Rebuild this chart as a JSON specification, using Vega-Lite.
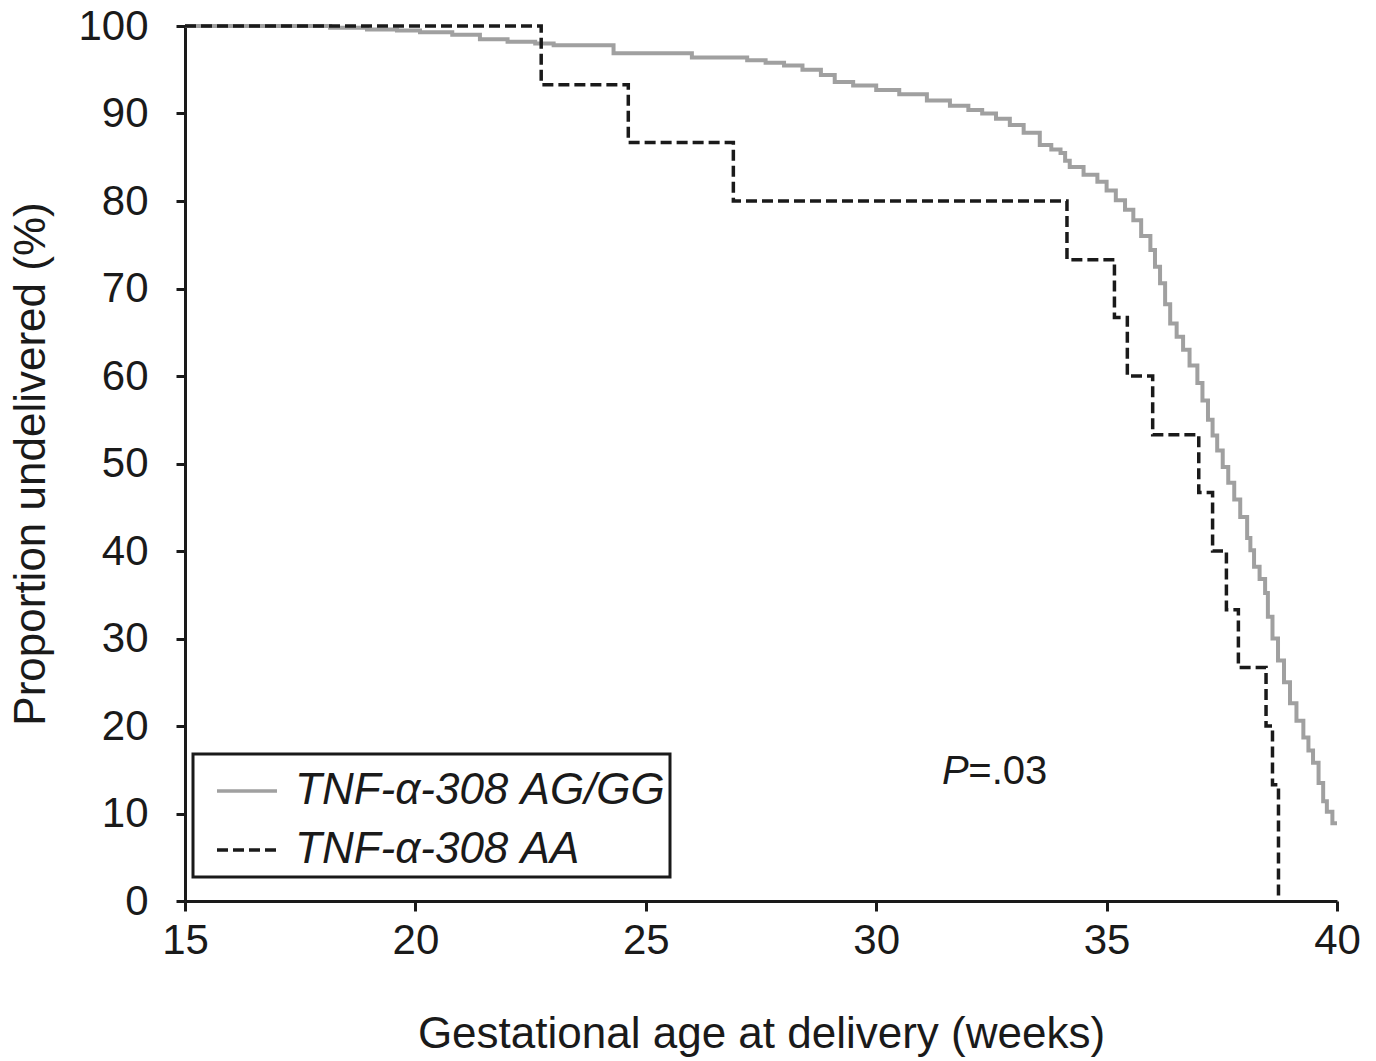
{
  "$schema": "https://vega.github.io/schema/vega-lite/v6.json",
  "width": 1152,
  "height": 875,
  "autosize": {"type": "none"},
  "padding": {"left": 185, "top": 26, "right": 39, "bottom": 160},
  "background": "white",
  "config": {
    "view": {"stroke": null},
    "font": "Liberation Sans",
    "axis": {
      "grid": false,
      "domainColor": "#1a1a1a",
      "domainWidth": 3,
      "tickColor": "#1a1a1a",
      "tickWidth": 3,
      "labelColor": "#1a1a1a",
      "labelFont": "Liberation Sans",
      "labelFontSize": 42,
      "labelFlush": false,
      "labelOverlap": false,
      "titleColor": "#1a1a1a",
      "titleFont": "Liberation Sans",
      "titleFontSize": 44,
      "titleFontWeight": "normal"
    },
    "legend": {
      "orient": "none",
      "legendX": 8,
      "legendY": 728,
      "strokeColor": "#1a1a1a",
      "strokeWidth": 3,
      "padding": 5,
      "symbolOffset": 17,
      "labelOffset": 16,
      "symbolSize": 3600,
      "symbolType": "stroke",
      "symbolStrokeWidth": 3.5,
      "rowPadding": 5,
      "labelFont": "Liberation Sans",
      "labelFontSize": 44,
      "labelFontStyle": "italic",
      "labelColor": "#1a1a1a",
      "labelLimit": 0
    }
  },
  "data": {
    "values": [
      {"group": "TNF-α-308 AG/GG", "weeks": 15, "pct": 100},
      {"group": "TNF-α-308 AG/GG", "weeks": 18.15, "pct": 99.8},
      {"group": "TNF-α-308 AG/GG", "weeks": 18.95, "pct": 99.6},
      {"group": "TNF-α-308 AG/GG", "weeks": 19.6, "pct": 99.5},
      {"group": "TNF-α-308 AG/GG", "weeks": 20.1, "pct": 99.3},
      {"group": "TNF-α-308 AG/GG", "weeks": 20.8, "pct": 99.0},
      {"group": "TNF-α-308 AG/GG", "weeks": 21.4, "pct": 98.5},
      {"group": "TNF-α-308 AG/GG", "weeks": 22.0, "pct": 98.2},
      {"group": "TNF-α-308 AG/GG", "weeks": 22.6, "pct": 98.0},
      {"group": "TNF-α-308 AG/GG", "weeks": 23.0, "pct": 97.8},
      {"group": "TNF-α-308 AG/GG", "weeks": 24.3, "pct": 96.9},
      {"group": "TNF-α-308 AG/GG", "weeks": 26.0, "pct": 96.4},
      {"group": "TNF-α-308 AG/GG", "weeks": 27.2, "pct": 96.1},
      {"group": "TNF-α-308 AG/GG", "weeks": 27.6, "pct": 95.8},
      {"group": "TNF-α-308 AG/GG", "weeks": 28.0, "pct": 95.5},
      {"group": "TNF-α-308 AG/GG", "weeks": 28.4, "pct": 95.0},
      {"group": "TNF-α-308 AG/GG", "weeks": 28.8, "pct": 94.4},
      {"group": "TNF-α-308 AG/GG", "weeks": 29.1, "pct": 93.6},
      {"group": "TNF-α-308 AG/GG", "weeks": 29.5, "pct": 93.2},
      {"group": "TNF-α-308 AG/GG", "weeks": 30.0, "pct": 92.7},
      {"group": "TNF-α-308 AG/GG", "weeks": 30.5, "pct": 92.2},
      {"group": "TNF-α-308 AG/GG", "weeks": 31.1, "pct": 91.5},
      {"group": "TNF-α-308 AG/GG", "weeks": 31.6, "pct": 90.9},
      {"group": "TNF-α-308 AG/GG", "weeks": 32.0, "pct": 90.4},
      {"group": "TNF-α-308 AG/GG", "weeks": 32.3, "pct": 90.0},
      {"group": "TNF-α-308 AG/GG", "weeks": 32.6, "pct": 89.4},
      {"group": "TNF-α-308 AG/GG", "weeks": 32.9, "pct": 88.7},
      {"group": "TNF-α-308 AG/GG", "weeks": 33.2, "pct": 87.8},
      {"group": "TNF-α-308 AG/GG", "weeks": 33.55, "pct": 86.4},
      {"group": "TNF-α-308 AG/GG", "weeks": 33.8, "pct": 85.9},
      {"group": "TNF-α-308 AG/GG", "weeks": 34.0, "pct": 85.5},
      {"group": "TNF-α-308 AG/GG", "weeks": 34.1, "pct": 84.6},
      {"group": "TNF-α-308 AG/GG", "weeks": 34.2, "pct": 83.9},
      {"group": "TNF-α-308 AG/GG", "weeks": 34.5, "pct": 83.0},
      {"group": "TNF-α-308 AG/GG", "weeks": 34.8, "pct": 82.2},
      {"group": "TNF-α-308 AG/GG", "weeks": 35.0, "pct": 81.2},
      {"group": "TNF-α-308 AG/GG", "weeks": 35.2, "pct": 80.1},
      {"group": "TNF-α-308 AG/GG", "weeks": 35.4, "pct": 79.0},
      {"group": "TNF-α-308 AG/GG", "weeks": 35.58, "pct": 77.8},
      {"group": "TNF-α-308 AG/GG", "weeks": 35.75, "pct": 76.0},
      {"group": "TNF-α-308 AG/GG", "weeks": 35.95, "pct": 74.4},
      {"group": "TNF-α-308 AG/GG", "weeks": 36.05, "pct": 72.5},
      {"group": "TNF-α-308 AG/GG", "weeks": 36.16, "pct": 70.6},
      {"group": "TNF-α-308 AG/GG", "weeks": 36.27, "pct": 68.2},
      {"group": "TNF-α-308 AG/GG", "weeks": 36.38, "pct": 66.0},
      {"group": "TNF-α-308 AG/GG", "weeks": 36.52, "pct": 64.5},
      {"group": "TNF-α-308 AG/GG", "weeks": 36.66, "pct": 63.0},
      {"group": "TNF-α-308 AG/GG", "weeks": 36.8, "pct": 61.2},
      {"group": "TNF-α-308 AG/GG", "weeks": 36.97, "pct": 59.2},
      {"group": "TNF-α-308 AG/GG", "weeks": 37.08, "pct": 57.2},
      {"group": "TNF-α-308 AG/GG", "weeks": 37.2, "pct": 55.0},
      {"group": "TNF-α-308 AG/GG", "weeks": 37.3, "pct": 53.2},
      {"group": "TNF-α-308 AG/GG", "weeks": 37.4, "pct": 51.5},
      {"group": "TNF-α-308 AG/GG", "weeks": 37.52, "pct": 49.6},
      {"group": "TNF-α-308 AG/GG", "weeks": 37.64, "pct": 47.8},
      {"group": "TNF-α-308 AG/GG", "weeks": 37.77, "pct": 45.9},
      {"group": "TNF-α-308 AG/GG", "weeks": 37.9, "pct": 43.9},
      {"group": "TNF-α-308 AG/GG", "weeks": 38.05, "pct": 41.5},
      {"group": "TNF-α-308 AG/GG", "weeks": 38.12, "pct": 40.1},
      {"group": "TNF-α-308 AG/GG", "weeks": 38.2, "pct": 38.2},
      {"group": "TNF-α-308 AG/GG", "weeks": 38.32, "pct": 36.8},
      {"group": "TNF-α-308 AG/GG", "weeks": 38.44, "pct": 35.2},
      {"group": "TNF-α-308 AG/GG", "weeks": 38.5, "pct": 32.5},
      {"group": "TNF-α-308 AG/GG", "weeks": 38.6, "pct": 30.0},
      {"group": "TNF-α-308 AG/GG", "weeks": 38.72, "pct": 27.5},
      {"group": "TNF-α-308 AG/GG", "weeks": 38.85, "pct": 25.0},
      {"group": "TNF-α-308 AG/GG", "weeks": 38.98, "pct": 22.6},
      {"group": "TNF-α-308 AG/GG", "weeks": 39.12, "pct": 20.6},
      {"group": "TNF-α-308 AG/GG", "weeks": 39.27, "pct": 18.7},
      {"group": "TNF-α-308 AG/GG", "weeks": 39.38, "pct": 17.2},
      {"group": "TNF-α-308 AG/GG", "weeks": 39.48, "pct": 15.8},
      {"group": "TNF-α-308 AG/GG", "weeks": 39.6, "pct": 13.5},
      {"group": "TNF-α-308 AG/GG", "weeks": 39.7, "pct": 11.4},
      {"group": "TNF-α-308 AG/GG", "weeks": 39.78, "pct": 10.2},
      {"group": "TNF-α-308 AG/GG", "weeks": 39.9, "pct": 8.9},
      {"group": "TNF-α-308 AG/GG", "weeks": 40.0, "pct": 8.9},
      {"group": "TNF-α-308 AA", "weeks": 15, "pct": 100},
      {"group": "TNF-α-308 AA", "weeks": 22.73, "pct": 93.3},
      {"group": "TNF-α-308 AA", "weeks": 24.62, "pct": 86.7},
      {"group": "TNF-α-308 AA", "weeks": 26.9, "pct": 80.0},
      {"group": "TNF-α-308 AA", "weeks": 34.14, "pct": 73.3},
      {"group": "TNF-α-308 AA", "weeks": 35.17, "pct": 66.7},
      {"group": "TNF-α-308 AA", "weeks": 35.45, "pct": 60.0},
      {"group": "TNF-α-308 AA", "weeks": 36.0, "pct": 53.3},
      {"group": "TNF-α-308 AA", "weeks": 37.0, "pct": 46.7},
      {"group": "TNF-α-308 AA", "weeks": 37.3, "pct": 40.0},
      {"group": "TNF-α-308 AA", "weeks": 37.6, "pct": 33.3},
      {"group": "TNF-α-308 AA", "weeks": 37.86, "pct": 26.7},
      {"group": "TNF-α-308 AA", "weeks": 38.46, "pct": 20.0},
      {"group": "TNF-α-308 AA", "weeks": 38.6, "pct": 13.3},
      {"group": "TNF-α-308 AA", "weeks": 38.73, "pct": 0}
    ]
  },
  "encoding": {
    "x": {
      "field": "weeks",
      "type": "quantitative",
      "scale": {"domain": [15, 40], "nice": false, "zero": false},
      "axis": {
        "values": [15, 20, 25, 30, 35, 40],
        "title": "Gestational age at delivery (weeks)",
        "tickSize": 10,
        "labelPadding": 9,
        "titleX": 576,
        "titleY": 146,
        "titleAlign": "center",
        "titleBaseline": "alphabetic",
        "titleAnchor": null
      }
    },
    "y": {
      "field": "pct",
      "type": "quantitative",
      "scale": {"domain": [0, 100], "nice": false},
      "axis": {
        "values": [0, 10, 20, 30, 40, 50, 60, 70, 80, 90, 100],
        "title": "Proportion undelivered (%)",
        "tickSize": 9,
        "labelPadding": 28,
        "titleAngle": -90,
        "titleX": -141,
        "titleY": 437.5,
        "titleAlign": "center",
        "titleBaseline": "alphabetic"
      }
    }
  },
  "layer": [
    {
      "transform": [{"filter": "datum.group === 'TNF-α-308 AG/GG'"}],
      "mark": {"type": "line", "interpolate": "step-after", "strokeWidth": 4},
      "encoding": {
        "color": {
          "field": "group",
          "type": "nominal",
          "scale": {"domain": ["TNF-α-308 AG/GG", "TNF-α-308 AA"], "range": ["#a0a0a0", "#1a1a1a"]},
          "legend": {"title": null}
        },
        "strokeDash": {
          "field": "group",
          "type": "nominal",
          "scale": {"domain": ["TNF-α-308 AG/GG", "TNF-α-308 AA"], "range": [[1, 0], [11, 5]]},
          "legend": {"title": null}
        }
      }
    },
    {
      "transform": [{"filter": "datum.group === 'TNF-α-308 AA'"}],
      "mark": {"type": "line", "interpolate": "step-after", "strokeWidth": 3.5},
      "encoding": {
        "color": {"field": "group", "type": "nominal"},
        "strokeDash": {"field": "group", "type": "nominal"}
      }
    },
    {
      "data": {"values": [{"weeks": 31.43, "pct": 14.74, "label": "P"}]},
      "mark": {"type": "text", "align": "left", "baseline": "middle", "fontSize": 40, "fontStyle": "italic", "font": "Liberation Sans", "color": "#1a1a1a"},
      "encoding": {"text": {"field": "label"}}
    },
    {
      "data": {"values": [{"weeks": 32.0, "pct": 14.74, "label": "=.03"}]},
      "mark": {"type": "text", "align": "left", "baseline": "middle", "fontSize": 40, "font": "Liberation Sans", "color": "#1a1a1a"},
      "encoding": {"text": {"field": "label"}}
    }
  ]
}
